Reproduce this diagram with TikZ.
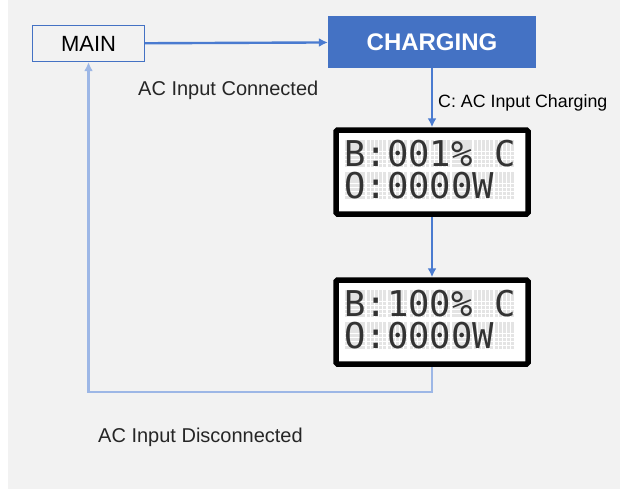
\documentclass[tikz,border=0pt]{standalone}
\usepackage{fontspec}
\setmainfont{Liberation Sans}
\newfontfamily\lcdfont{DejaVu Sans Mono}
\usetikzlibrary{arrows.meta,positioning,calc}
\definecolor{bggray}{HTML}{F2F2F2}
\definecolor{boxblue}{HTML}{4472C4}
\definecolor{lineblue}{HTML}{4A7BD0}
\definecolor{backblue}{HTML}{9DB7E6}
\definecolor{dotgray}{HTML}{E4E4E4}

\begin{document}
\begin{tikzpicture}[x=1pt, y=-1pt,
    state/.style={draw=boxblue, line width=1.3pt, fill=bggray, minimum width=112pt, minimum height=36pt, font=\fontsize{22}{26}\selectfont},
    active/.style={fill=boxblue, text=white, minimum width=207pt, minimum height=51pt, font=\fontsize{24}{28}\selectfont\bfseries},
    lcd/.style={draw=black, fill=white, line width=5.5pt, rounded corners=1.5pt, minimum width=192pt, minimum height=84pt},
    lcdtext/.style={inner sep=0pt, anchor=base west, text=black!80, font=\lcdfont\fontsize{35.5}{36}\selectfont},
    edge/.style={-{Latex[length=9pt,width=9pt]}, line width=2.4pt, draw=lineblue},
    back/.style={-{Latex[length=9pt,width=9pt]}, line width=2.4pt, draw=backblue},
    label/.style={inner sep=0pt, anchor=base west, text=black!85, font=\fontsize{20}{24}\selectfont},
]

% Canvas
\fill[bggray] (8,0) rectangle (620,489);
\useasboundingbox (0,0) rectangle (620,490);

% States
\node[state] (main) at (88.5,43.5) {MAIN};
\node[state, active] (charging) at (432,42) {CHARGING};

% LCD screens
\node[lcd] (lcd1) at (432,172) {};
\node[lcd] (lcd2) at (432,322) {};

% Dot matrix cells
\foreach \lcd in {lcd1,lcd2} {
  \begin{scope}[shift={(\lcd.center)}]
    \foreach \row in {0,1}
      \foreach \cell in {0,...,7}
        \foreach \i in {0,...,4}
          \foreach \j in {0,...,6}
            \fill[dotgray] (-87+\cell*21.4+\i*4+0.4, -32+\row*32+\j*3.9+0.4) rectangle ++(3.2,3.2);
  \end{scope}
}

\node[lcdtext] (lcd1a) at (344.3,166.5) {B:001\% C};
\node[lcdtext] (lcd1b) at (344.3,198.5) {O:0000W};
\node[lcdtext] (lcd2a) at (344.3,316.5) {B:100\% C};
\node[lcdtext] (lcd2b) at (344.3,348.5) {O:0000W};

% Labels
\node[label] (connected) at (138,95) {AC Input Connected};
\node[label, text=black, font=\fontsize{17.8}{20}\selectfont] (chglabel) at (438,107) {C: AC Input Charging};
\node[label] (disconnected) at (98,442) {AC Input Disconnected};

\draw[edge] (main) -- (charging);
\draw[edge] (charging) -- (lcd1);
\draw[edge] (lcd1) -- (lcd2);

% Back to main
\draw[back] (lcd2.south) -- ++(0,25) -| (main.south);

\end{tikzpicture}
\end{document}
